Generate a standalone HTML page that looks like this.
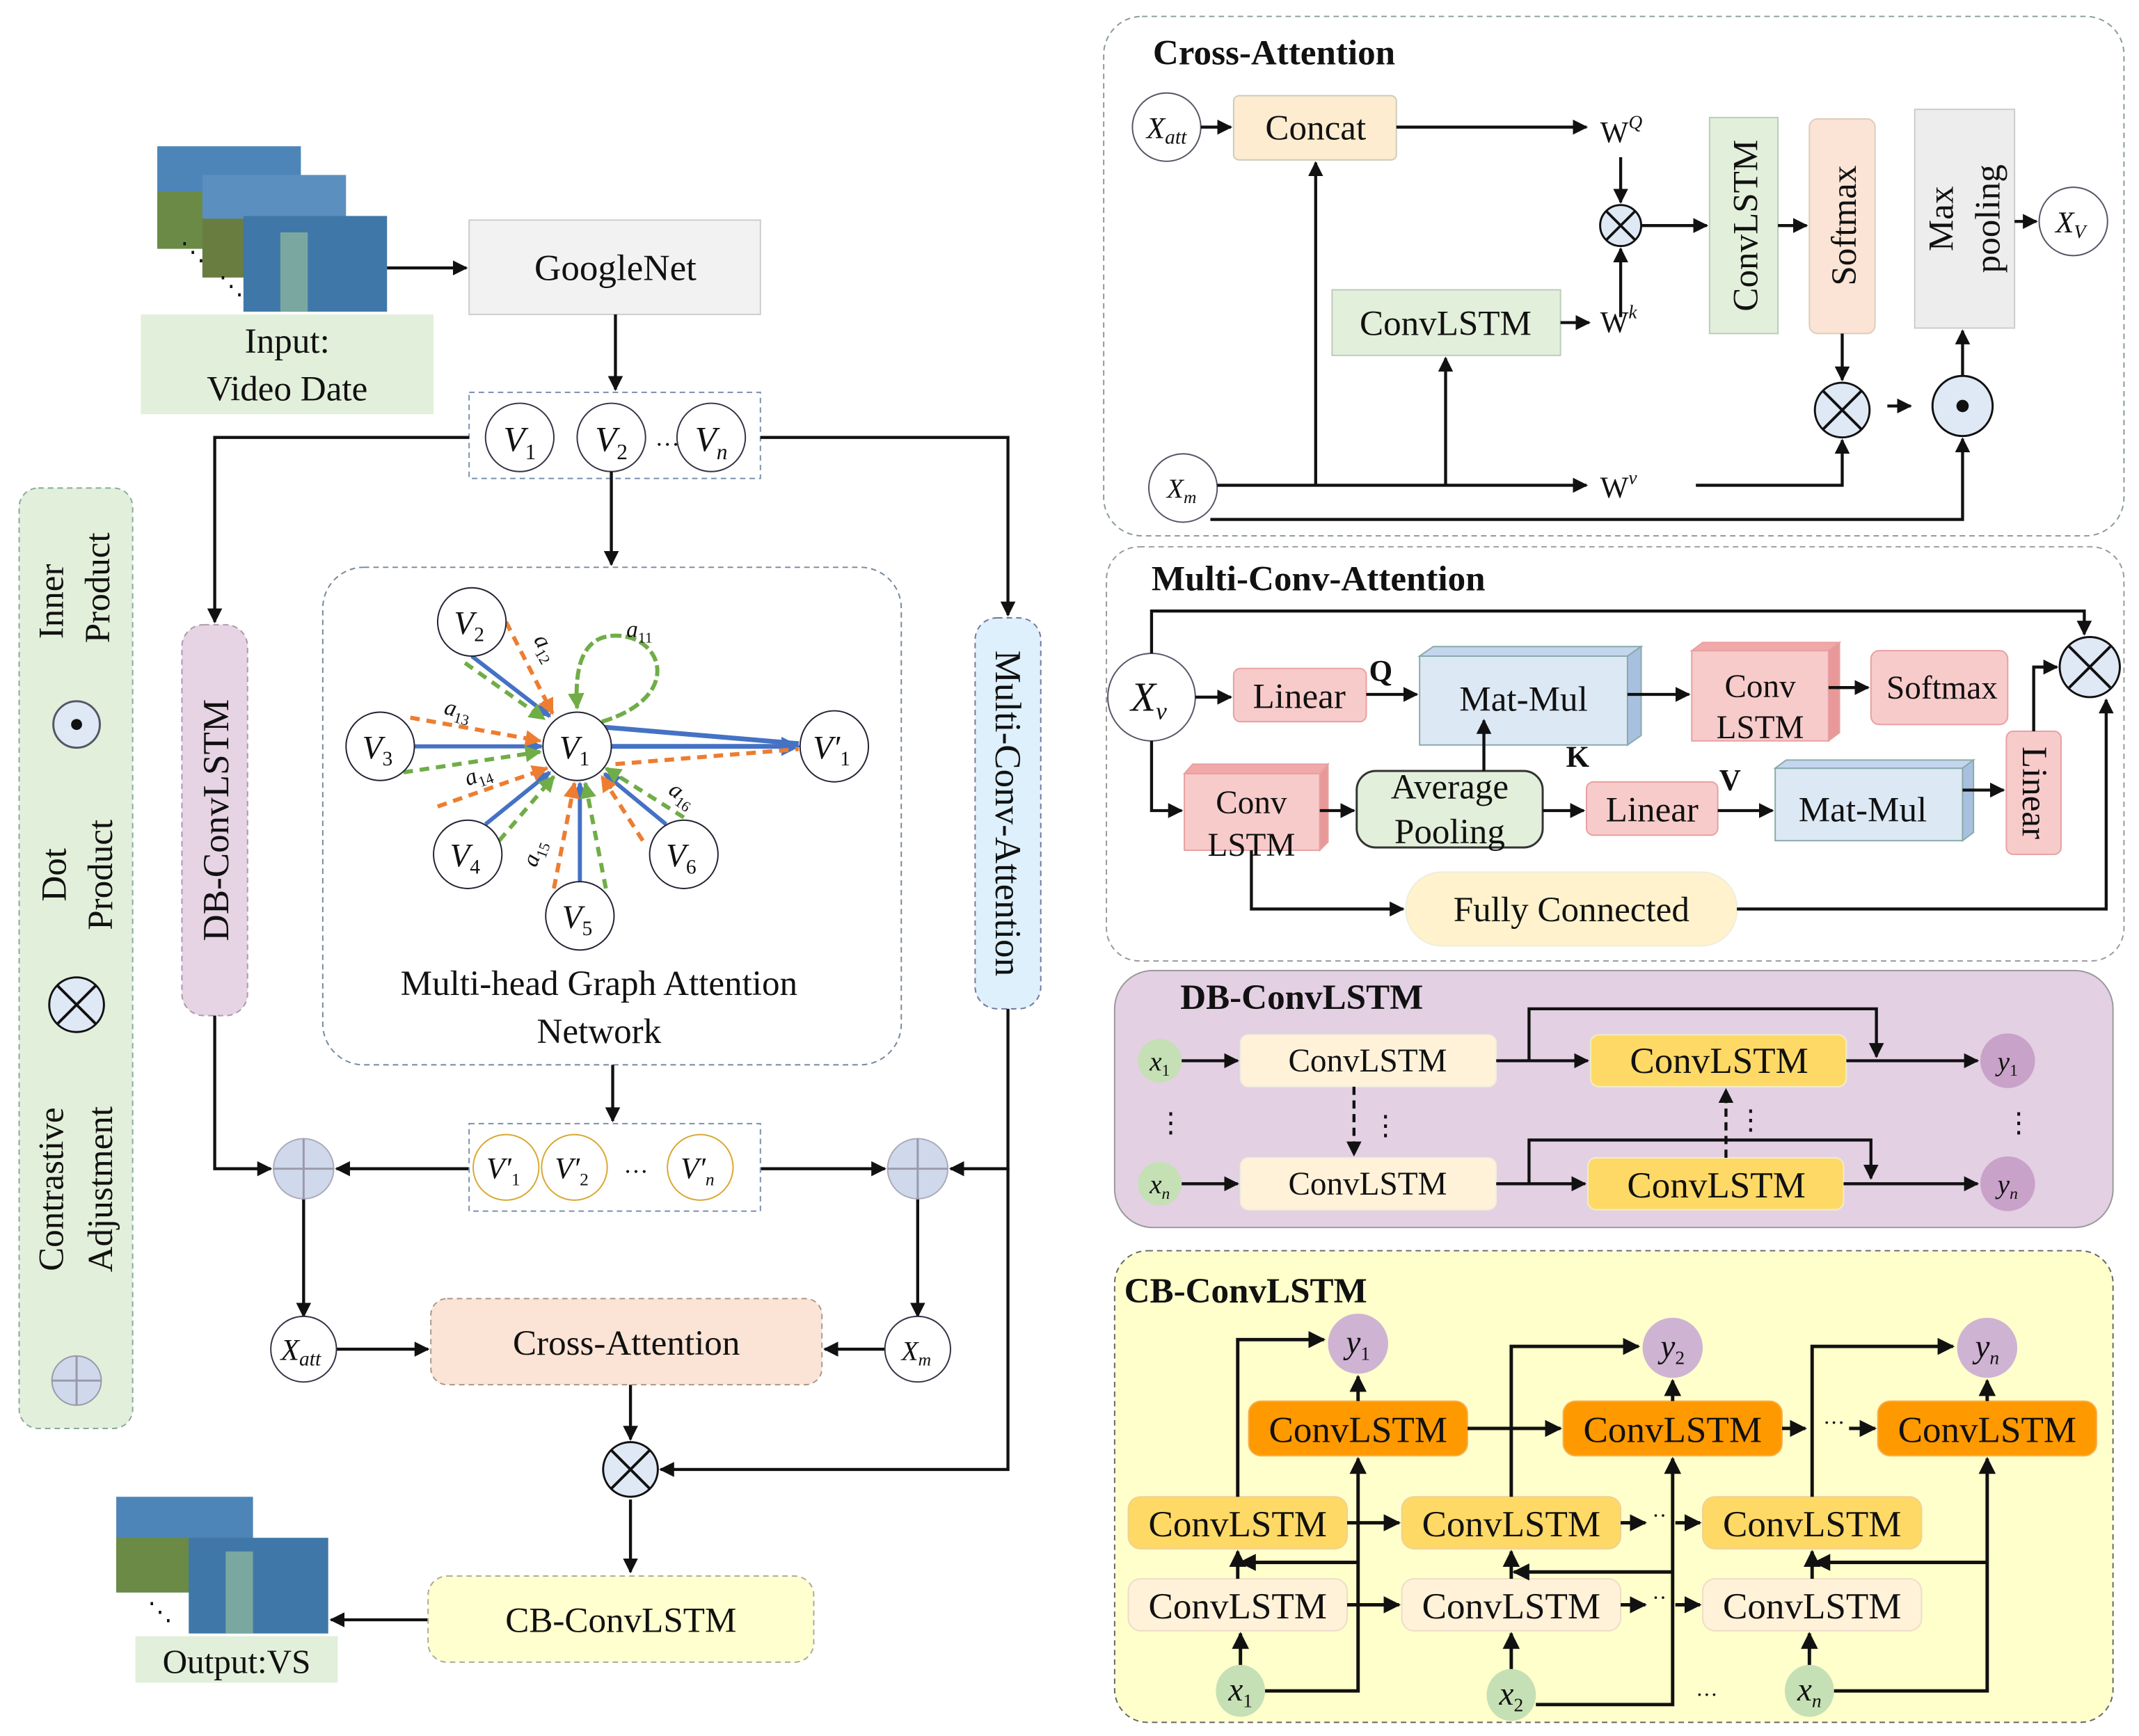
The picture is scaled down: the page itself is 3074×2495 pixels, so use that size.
<!DOCTYPE html>
<html><head><meta charset="utf-8"><style>
html,body{margin:0;padding:0;background:#fff}
svg{display:block}
text{font-family:"Liberation Serif",serif;fill:#111}
.i{font-style:italic}
</style></head><body>
<svg width="3074" height="2495" viewBox="0 0 1564 1270" preserveAspectRatio="none" xmlns="http://www.w3.org/2000/svg">
<defs>
<marker id="a" viewBox="0 0 10 10" refX="9" refY="5" markerWidth="5" markerHeight="5" orient="auto"><path d="M0,0L10,5L0,10z" fill="#111"/></marker>
<marker id="b" viewBox="0 0 10 10" refX="9" refY="5" markerWidth="4" markerHeight="4" orient="auto"><path d="M0,0L10,5L0,10z" fill="#4472c4"/></marker>
<marker id="g" viewBox="0 0 10 10" refX="9" refY="5" markerWidth="4" markerHeight="4" orient="auto"><path d="M0,0L10,5L0,10z" fill="#70ad47"/></marker>
<marker id="o" viewBox="0 0 10 10" refX="9" refY="5" markerWidth="4" markerHeight="4" orient="auto"><path d="M0,0L10,5L0,10z" fill="#ed7d31"/></marker>
<g id="ot"><circle r="20" fill="#dfe8f5" stroke="#111" stroke-width="1.5"/><path d="M-14,-14L14,14M14,-14L-14,14" stroke="#111" stroke-width="2"/></g>
<g id="op"><circle r="22" fill="#d0d8ec" stroke="#aab" stroke-width="1"/><path d="M-22,0H22M0,-22V22" stroke="#99a" stroke-width="1.5"/></g>
</defs>
<!-- legend -->
<rect x="14" y="357" width="83" height="688" rx="14" fill="#e2efda" stroke="#8a9" stroke-dasharray="4,3"/>
<text transform="translate(46,440) rotate(-90)" font-size="26" text-anchor="middle">Inner</text>
<text transform="translate(80,430) rotate(-90)" font-size="26" text-anchor="middle">Product</text>
<circle cx="56" cy="530" r="17" fill="#dfe8f5" stroke="#556" stroke-width="1.5"/><circle cx="56" cy="530" r="4" fill="#111"/>
<text transform="translate(48,640) rotate(-90)" font-size="26" text-anchor="middle">Dot</text>
<text transform="translate(82,640) rotate(-90)" font-size="26" text-anchor="middle">Product</text>
<use href="#ot" x="56" y="735"/>
<text transform="translate(46,870) rotate(-90)" font-size="26" text-anchor="middle">Contrastive</text>
<text transform="translate(82,870) rotate(-90)" font-size="26" text-anchor="middle">Adjustment</text>
<circle cx="56" cy="1010" r="18" fill="#d0d8ec" stroke="#99a"/><path d="M38,1010H74M56,992V1028" stroke="#99a" stroke-width="1.5"/>
<!-- input images -->
<rect x="115" y="107" width="105" height="75" fill="#4d85b8"/><rect x="115" y="140" width="105" height="42" fill="#6a8a45"/>
<rect x="148" y="128" width="105" height="75" fill="#5b8fbf"/><rect x="148" y="160" width="105" height="43" fill="#6a7d40"/>
<rect x="178" y="158" width="105" height="70" fill="#3f78a8"/><rect x="205" y="170" width="20" height="58" fill="#7aa7a0"/>
<text x="132" y="190" font-size="18">⋱</text><text x="160" y="215" font-size="18">⋱</text>
<rect x="103" y="230" width="214" height="73" fill="#e2efda"/>
<text x="210" y="258" font-size="26" text-anchor="middle">Input:</text>
<text x="210" y="293" font-size="26" text-anchor="middle">Video Date</text>
<rect x="343" y="161" width="213" height="69" fill="#f2f2f2" stroke="#ccc"/>
<text x="450" y="205" font-size="27" text-anchor="middle">GoogleNet</text>
<rect x="343" y="287" width="213" height="63" fill="#fff" stroke="#7890b0" stroke-dasharray="4,3"/>
<g fill="#fff" stroke="#334" stroke-width="1"><circle cx="380" cy="320" r="25"/><circle cx="447" cy="320" r="25"/><circle cx="520" cy="320" r="25"/></g>
<text x="380" y="330" font-size="26" class="i" text-anchor="middle">V<tspan font-size="16" font-style="normal" dy="6">1</tspan></text>
<text x="447" y="330" font-size="26" class="i" text-anchor="middle">V<tspan font-size="16" font-style="normal" dy="6">2</tspan></text>
<text x="520" y="330" font-size="26" class="i" text-anchor="middle">V<tspan font-size="16" dy="6">n</tspan></text>
<text x="488" y="326" font-size="18" text-anchor="middle">…</text>
<rect x="236" y="415" width="423" height="364" rx="30" fill="#fff" stroke="#789" stroke-dasharray="4,3"/>
<rect x="133" y="457" width="48" height="286" rx="16" fill="#e6d3e4" stroke="#a9a" stroke-dasharray="4,3"/>
<text transform="translate(167,600) rotate(-90)" font-size="27" text-anchor="middle">DB-ConvLSTM</text>
<rect x="713" y="452" width="48" height="286" rx="16" fill="#ddf0fc" stroke="#779" stroke-dasharray="4,3"/>
<text transform="translate(728,595) rotate(90)" font-size="27" text-anchor="middle">Multi-Conv-Attention</text>
<g stroke="#111" stroke-width="2.2" fill="none" marker-end="url(#a)">
<path d="M283,196H341"/><path d="M450,230V285"/>
<path d="M343,320H157V455"/><path d="M556,320H737V450"/><path d="M447,345V413"/>
<path d="M448,779V820"/>
<path d="M157,743V855H198"/><path d="M343,855H246"/><path d="M556,855H647"/><path d="M737,738V855H695"/>
<path d="M737,855V1075H483"/>
<path d="M222,877V963"/><path d="M671,877V963"/>
<path d="M246,987H313"/><path d="M647,987H603"/>
<path d="M461,1013V1053"/><path d="M461,1097V1150"/><path d="M313,1185H242"/>
</g>
<!-- GAT -->
<g stroke-width="3" fill="none">
<path d="M345,480L402,524" stroke="#4472c4" marker-end="url(#b)"/>
<path d="M370,455L404,522" stroke="#ed7d31" stroke-dasharray="7,5" marker-end="url(#o)"/>
<path d="M340,485L398,526" stroke="#70ad47" stroke-dasharray="7,5" marker-end="url(#g)"/>
<path d="M303,546H396" stroke="#4472c4" marker-end="url(#b)"/>
<path d="M300,525L395,542" stroke="#ed7d31" stroke-dasharray="7,5" marker-end="url(#o)"/>
<path d="M295,565L395,550" stroke="#70ad47" stroke-dasharray="7,5" marker-end="url(#g)"/>
<path d="M355,603L402,565" stroke="#4472c4" marker-end="url(#b)"/>
<path d="M320,590L400,562" stroke="#ed7d31" stroke-dasharray="7,5" marker-end="url(#o)"/>
<path d="M365,615L405,568" stroke="#70ad47" stroke-dasharray="7,5" marker-end="url(#g)"/>
<path d="M424,645V573" stroke="#4472c4" marker-end="url(#b)"/>
<path d="M405,650L420,573" stroke="#ed7d31" stroke-dasharray="7,5" marker-end="url(#o)"/>
<path d="M443,650L428,573" stroke="#70ad47" stroke-dasharray="7,5" marker-end="url(#g)"/>
<path d="M487,603L442,566" stroke="#4472c4" marker-end="url(#b)"/>
<path d="M470,615L440,568" stroke="#ed7d31" stroke-dasharray="7,5" marker-end="url(#o)"/>
<path d="M500,598L443,562" stroke="#70ad47" stroke-dasharray="7,5" marker-end="url(#g)"/>
<path d="M447,546H584" stroke="#4472c4" stroke-width="3.5" marker-end="url(#b)"/>
<path d="M442,532L584,544" stroke="#4472c4" stroke-width="3.5"/>
<path d="M450,559L584,548" stroke="#ed7d31" stroke-dasharray="7,5"/>
<path d="M440,528C500,510 485,465 450,465C425,465 420,490 422,518" stroke="#70ad47" stroke-dasharray="8,3" marker-end="url(#g)"/>
</g>
<g fill="#fff" stroke="#223" stroke-width="1">
<circle cx="422" cy="546" r="25"/><circle cx="345" cy="455" r="25"/><circle cx="278" cy="546" r="25"/><circle cx="342" cy="625" r="25"/><circle cx="424" cy="670" r="25"/><circle cx="500" cy="625" r="25"/><ellipse cx="610" cy="546" rx="25" ry="26"/>
</g>
<g font-size="24" class="i" text-anchor="middle">
<text x="420" y="555">V<tspan font-size="15" font-style="normal" dy="5">1</tspan></text>
<text x="343" y="464">V<tspan font-size="15" font-style="normal" dy="5">2</tspan></text>
<text x="276" y="555">V<tspan font-size="15" font-style="normal" dy="5">3</tspan></text>
<text x="340" y="634">V<tspan font-size="15" font-style="normal" dy="5">4</tspan></text>
<text x="422" y="679">V<tspan font-size="15" font-style="normal" dy="5">5</tspan></text>
<text x="498" y="634">V<tspan font-size="15" font-style="normal" dy="5">6</tspan></text>
<text x="608" y="555">V′<tspan font-size="15" font-style="normal" dy="5">1</tspan></text>
</g>
<g font-size="17" class="i">
<text x="458" y="466">a<tspan font-size="11" font-style="normal" dy="4">11</tspan></text>
<text transform="translate(390,468) rotate(60)">a<tspan font-size="11" font-style="normal" dy="4">12</tspan></text>
<text transform="translate(324,522) rotate(15)">a<tspan font-size="11" font-style="normal" dy="4">13</tspan></text>
<text transform="translate(342,575) rotate(-20)">a<tspan font-size="11" font-style="normal" dy="4">14</tspan></text>
<text transform="translate(392,635) rotate(-70)">a<tspan font-size="11" font-style="normal" dy="4">15</tspan></text>
<text transform="translate(488,580) rotate(35)">a<tspan font-size="11" font-style="normal" dy="4">16</tspan></text>
</g>
<text x="438" y="728" font-size="26" text-anchor="middle">Multi-head Graph Attention</text>
<text x="438" y="763" font-size="26" text-anchor="middle">Network</text>
<rect x="343" y="822" width="213" height="64" fill="#fff" stroke="#7890b0" stroke-dasharray="4,3"/>
<g fill="#fff" stroke="#d8a830" stroke-width="1"><circle cx="370" cy="854" r="24"/><circle cx="420" cy="854" r="24"/><circle cx="512" cy="854" r="24"/></g>
<g font-size="22" class="i" text-anchor="middle">
<text x="368" y="862">V′<tspan font-size="13" font-style="normal" dy="5">1</tspan></text>
<text x="418" y="862">V′<tspan font-size="13" font-style="normal" dy="5">2</tspan></text>
<text x="510" y="862">V′<tspan font-size="13" dy="5">n</tspan></text>
</g>
<text x="465" y="858" font-size="18" text-anchor="middle">…</text>
<use href="#op" x="222" y="855"/><use href="#op" x="671" y="855"/>
<circle cx="222" cy="987" r="24" fill="#fff" stroke="#334"/><text x="220" y="995" font-size="22" class="i" text-anchor="middle">X<tspan font-size="15" dy="4">att</tspan></text>
<circle cx="671" cy="987" r="24" fill="#fff" stroke="#334"/><text x="670" y="995" font-size="20" class="i" text-anchor="middle">X<tspan font-size="13" dy="4">m</tspan></text>
<rect x="315" y="950" width="286" height="63" rx="12" fill="#fbe4d5" stroke="#a98" stroke-dasharray="4,3"/>
<text x="458" y="991" font-size="26" text-anchor="middle">Cross-Attention</text>
<use href="#ot" x="461" y="1075"/>
<rect x="313" y="1153" width="282" height="63" rx="14" fill="#ffffd0" stroke="#aa9" stroke-dasharray="4,3"/>
<text x="454" y="1194" font-size="26" text-anchor="middle">CB-ConvLSTM</text>
<rect x="85" y="1095" width="100" height="70" fill="#4d85b8"/><rect x="85" y="1125" width="100" height="40" fill="#6a8a45"/>
<rect x="138" y="1125" width="102" height="70" fill="#3f78a8"/><rect x="165" y="1135" width="20" height="60" fill="#7aa7a0"/>
<text x="108" y="1185" font-size="18">⋱</text>
<rect x="99" y="1197" width="148" height="34" fill="#e2efda"/>
<text x="173" y="1224" font-size="25" text-anchor="middle">Output:VS</text>

<!-- CROSS ATTENTION PANEL -->
<rect x="807" y="12" width="746" height="380" rx="28" fill="#fff" stroke="#8a9a9a" stroke-dasharray="4,3"/>
<text x="843" y="47" font-size="26" font-weight="bold">Cross-Attention</text>
<circle cx="853" cy="93" r="25" fill="#fff" stroke="#556"/><text x="853" y="101" font-size="22" class="i" text-anchor="middle">X<tspan font-size="15" dy="4">att</tspan></text>
<rect x="902" y="70" width="119" height="47" rx="4" fill="#fdeccf" stroke="#ccb"/><text x="962" y="102" font-size="26" text-anchor="middle">Concat</text>
<rect x="974" y="212" width="167" height="48" fill="#e2efda" stroke="#bcb"/><text x="1057" y="245" font-size="26" text-anchor="middle">ConvLSTM</text>
<rect x="1250" y="86" width="50" height="158" fill="#e2efda" stroke="#bcb"/><text transform="translate(1285,165) rotate(-90)" font-size="26" text-anchor="middle">ConvLSTM</text>
<rect x="1323" y="87" width="48" height="157" rx="6" fill="#fbe4d5" stroke="#dcb"/><text transform="translate(1357,165) rotate(-90)" font-size="26" text-anchor="middle">Softmax</text>
<rect x="1400" y="80" width="73" height="160" fill="#ededed" stroke="#ccc"/>
<text transform="translate(1428,160) rotate(-90)" font-size="26" text-anchor="middle">Max</text>
<text transform="translate(1462,160) rotate(-90)" font-size="26" text-anchor="middle">pooling</text>
<circle cx="1516" cy="162" r="25" fill="#fff" stroke="#556"/><text x="1514" y="170" font-size="22" class="i" text-anchor="middle">X<tspan font-size="14" dy="4">V</tspan></text>
<circle cx="865" cy="357" r="25" fill="#fff" stroke="#556"/><text x="864" y="364" font-size="20" class="i" text-anchor="middle">X<tspan font-size="13" dy="4">m</tspan></text>
<g font-size="22"><text x="1170" y="104">W<tspan font-size="14" class="i" dy="-10">Q</tspan></text><text x="1170" y="243">W<tspan font-size="14" class="i" dy="-10">k</tspan></text><text x="1170" y="364">W<tspan font-size="14" class="i" dy="-10">v</tspan></text></g>
<g transform="translate(1185,165) scale(0.75)"><circle r="20" fill="#dfe8f5" stroke="#111" stroke-width="2"/><path d="M-14,-14L14,14M14,-14L-14,14" stroke="#111" stroke-width="2.5"/></g>
<use href="#ot" x="1347" y="300"/>
<circle cx="1435" cy="297" r="22" fill="#dfe8f5" stroke="#111" stroke-width="1.5"/><circle cx="1435" cy="297" r="4.5" fill="#111"/>
<g stroke="#111" stroke-width="2.2" fill="none" marker-end="url(#a)">
<path d="M878,93H900"/><path d="M1021,93H1160"/><path d="M1185,115V148"/><path d="M1185,232V182"/><path d="M1141,236H1162"/>
<path d="M1200,165H1248"/><path d="M1300,165H1321"/><path d="M1473,162H1489"/>
<path d="M890,355H1160"/><path d="M962,355V119"/><path d="M1057,355V262"/>
<path d="M1347,244V278"/><path d="M1380,297H1397"/><path d="M1435,275V242"/>
<path d="M1240,355H1347V322"/><path d="M885,380H1435V321"/>
</g>
<!-- MULTI-CONV-ATTENTION -->
<rect x="809" y="400" width="744" height="303" rx="24" fill="#fff" stroke="#999" stroke-dasharray="4,3"/>
<text x="842" y="432" font-size="26" font-weight="bold">Multi-Conv-Attention</text>
<circle cx="842" cy="510" r="32" fill="#fff" stroke="#556"/><text x="840" y="520" font-size="30" class="i" text-anchor="middle">X<tspan font-size="18" dy="6">v</tspan></text>
<g stroke="#e8a0a0" stroke-width="1">
<rect x="902" y="489" width="97" height="39" rx="5" fill="#f8cbcb"/>
<rect x="1237" y="476" width="100" height="66" fill="#f8cbcb"/>
<path d="M1237,476L1245,470H1345L1337,476Z" fill="#f0a8a8"/><path d="M1337,476L1345,470V536L1337,542Z" fill="#e89898"/>
<rect x="1368" y="476" width="100" height="54" rx="6" fill="#f8cbcb"/>
<rect x="866" y="566" width="99" height="56" fill="#f8cbcb"/>
<path d="M866,566L872,559H971L965,566Z" fill="#f0a8a8"/><path d="M965,566L971,559V616L965,622Z" fill="#e89898"/>
<rect x="1160" y="572" width="96" height="39" rx="5" fill="#f8cbcb"/>
<rect x="1467" y="535" width="40" height="90" rx="5" fill="#f8cbcb"/>
</g>
<g stroke="#8aa" stroke-width="1">
<rect x="1038" y="480" width="152" height="65" fill="#dde8f5"/>
<path d="M1038,480L1048,473H1200L1190,480Z" fill="#c4d6ee"/><path d="M1190,480L1200,473V538L1190,545Z" fill="#a8c0e0"/>
<rect x="1298" y="562" width="137" height="53" fill="#dde8f5"/>
<path d="M1298,562L1306,556H1443L1435,562Z" fill="#c4d6ee"/><path d="M1435,562L1443,556V609L1435,615Z" fill="#a8c0e0"/>
</g>
<rect x="992" y="564" width="136" height="56" rx="14" fill="#e2efda" stroke="#333" stroke-width="1.5"/>
<rect x="1028" y="638" width="242" height="54" rx="26" fill="#fff2cc" stroke="#eed"/>
<g font-size="26" text-anchor="middle">
<text x="950" y="518">Linear</text><text x="1114" y="520">Mat-Mul</text>
<text x="1287" y="510" font-size="24">Conv</text><text x="1287" y="540" font-size="24">LSTM</text>
<text x="1420" y="511" font-size="24">Softmax</text>
<text x="915" y="595" font-size="24">Conv</text><text x="915" y="626" font-size="24">LSTM</text>
<text x="1060" y="584">Average</text><text x="1060" y="617">Pooling</text>
<text x="1208" y="601">Linear</text><text x="1362" y="601">Mat-Mul</text>
<text x="1149" y="674">Fully Connected</text>
<text transform="translate(1479,580) rotate(90)">Linear</text>
</g>
<g font-size="22" font-weight="bold"><text x="1001" y="498">Q</text><text x="1145" y="561">K</text><text x="1257" y="578">V</text></g>
<circle cx="1528" cy="488" r="22" fill="#dfe8f5" stroke="#111" stroke-width="1.5"/><path d="M1513,473L1543,503M1543,473L1513,503" stroke="#111" stroke-width="2"/>
<g stroke="#111" stroke-width="2.2" fill="none" marker-end="url(#a)">
<path d="M874,510H900"/><path d="M999,508H1036"/><path d="M1190,508H1235"/><path d="M1337,503H1366"/>
<path d="M842,478V447H1524V464"/><path d="M842,542V593H864"/><path d="M965,593H990"/><path d="M1085,564V527"/>
<path d="M1128,593H1158"/><path d="M1256,593H1296"/><path d="M1435,578H1465"/>
<path d="M1487,535V488H1504"/><path d="M915,622V665H1026"/><path d="M1270,665H1540V512"/>
</g>
<!-- DB-ConvLSTM -->
<rect x="815" y="710" width="730" height="188" rx="28" fill="#e3d0e3" stroke="#999"/>
<text x="863" y="738" font-size="26" font-weight="bold">DB-ConvLSTM</text>
<g fill="#fff2d9" stroke="#eed"><rect x="907" y="757" width="187" height="38" rx="6"/><rect x="907" y="847" width="187" height="38" rx="6"/></g>
<g fill="#ffd966" stroke="#eec"><rect x="1163" y="757" width="187" height="38" rx="6"/><rect x="1161" y="847" width="187" height="38" rx="6"/></g>
<g font-size="24" text-anchor="middle"><text x="1000" y="784">ConvLSTM</text><text x="1000" y="874">ConvLSTM</text>
<text x="1257" y="785" font-size="27">ConvLSTM</text><text x="1255" y="876" font-size="27">ConvLSTM</text></g>
<g fill="#c5e0b4"><circle cx="848" cy="776" r="16"/><circle cx="848" cy="866" r="16"/></g>
<g fill="#c8a2c8"><circle cx="1468" cy="776" r="20"/><circle cx="1468" cy="866" r="20"/></g>
<g font-size="20" class="i" text-anchor="middle"><text x="848" y="783">x<tspan font-size="12" font-style="normal" dy="4">1</tspan></text><text x="848" y="873">x<tspan font-size="12" dy="4">n</tspan></text>
<text x="1468" y="783">y<tspan font-size="12" font-style="normal" dy="4">1</tspan></text><text x="1468" y="873">y<tspan font-size="12" dy="4">n</tspan></text></g>
<g font-size="20"><text x="846" y="828">⋮</text><text x="1466" y="828">⋮</text><text x="1003" y="830">⋮</text><text x="1270" y="826">⋮</text></g>
<g stroke="#111" stroke-width="2.2" fill="none" marker-end="url(#a)">
<path d="M864,776H905"/><path d="M1094,776H1161"/><path d="M1350,776H1446"/><path d="M1118,776V738H1372V773"/>
<path d="M864,866H905"/><path d="M1094,866H1159"/><path d="M1348,866H1446"/><path d="M1118,866V834H1368V862"/>
<path d="M990,795V845" stroke-dasharray="6,4"/><path d="M1262,847V797" stroke-dasharray="6,4"/>
</g>
<!-- CB-ConvLSTM -->
<rect x="815" y="915" width="730" height="345" rx="24" fill="#ffffcc" stroke="#666" stroke-dasharray="4,3"/>
<text x="822" y="953" font-size="26" font-weight="bold">CB-ConvLSTM</text>
<g fill="#ff9900" stroke="#f5b050"><rect x="913" y="1025" width="160" height="40" rx="9"/><rect x="1143" y="1025" width="160" height="40" rx="9"/><rect x="1373" y="1025" width="160" height="40" rx="9"/></g>
<g fill="#ffd966" stroke="#f0d090"><rect x="825" y="1095" width="160" height="38" rx="9"/><rect x="1025" y="1095" width="160" height="38" rx="9"/><rect x="1245" y="1095" width="160" height="38" rx="9"/></g>
<g fill="#fff2d9" stroke="#eedcc8"><rect x="825" y="1155" width="160" height="38" rx="9"/><rect x="1025" y="1155" width="160" height="38" rx="9"/><rect x="1245" y="1155" width="160" height="38" rx="9"/></g>
<g font-size="27" text-anchor="middle">
<text x="993" y="1055">ConvLSTM</text><text x="1223" y="1055">ConvLSTM</text><text x="1453" y="1055">ConvLSTM</text>
<text x="905" y="1124">ConvLSTM</text><text x="1105" y="1124">ConvLSTM</text><text x="1325" y="1124">ConvLSTM</text>
<text x="905" y="1184">ConvLSTM</text><text x="1105" y="1184">ConvLSTM</text><text x="1325" y="1184">ConvLSTM</text>
</g>
<g fill="#cfb3d3"><ellipse cx="993" cy="983" rx="22" ry="22"/><ellipse cx="1223" cy="986" rx="22" ry="22"/><ellipse cx="1453" cy="986" rx="22" ry="22"/></g>
<g fill="#c5e0b4"><ellipse cx="907" cy="1237" rx="18" ry="19"/><ellipse cx="1105" cy="1240" rx="18" ry="19"/><ellipse cx="1323" cy="1237" rx="18" ry="19"/></g>
<g font-size="24" class="i" text-anchor="middle">
<text x="993" y="990">y<tspan font-size="14" font-style="normal" dy="5">1</tspan></text><text x="1223" y="993">y<tspan font-size="14" font-style="normal" dy="5">2</tspan></text><text x="1453" y="993">y<tspan font-size="14" dy="5">n</tspan></text>
<text x="907" y="1244">x<tspan font-size="14" font-style="normal" dy="5">1</tspan></text><text x="1105" y="1247">x<tspan font-size="14" font-style="normal" dy="5">2</tspan></text><text x="1323" y="1244">x<tspan font-size="14" dy="5">n</tspan></text>
</g>
<g font-size="16"><text x="1333" y="1046">···</text><text x="1208" y="1114">··</text><text x="1208" y="1174">··</text><text x="1240" y="1245">···</text></g>
<g stroke="#111" stroke-width="2.5" fill="none" marker-end="url(#a)">
<path d="M907,1218V1195"/><path d="M1105,1221V1195"/><path d="M1323,1218V1195"/>
<path d="M905,1155V1135"/><path d="M1105,1155V1135"/><path d="M1325,1155V1135"/>
<path d="M905,1095V980H968"/><path d="M1105,1095V985H1198"/><path d="M1325,1095V985H1428"/>
<path d="M993,1025V1007"/><path d="M1223,1025V1010"/><path d="M1453,1025V1010"/>
<path d="M925,1237H993V1067"/><path d="M1123,1247H1223V1067"/><path d="M1341,1237H1453V1067"/>
<path d="M993,1143H907"/><path d="M1223,1150H1107"/><path d="M1453,1143H1327"/>
<path d="M985,1114H1023"/><path d="M1185,1114H1203"/><path d="M1225,1114H1243"/>
<path d="M985,1174H1023"/><path d="M1185,1174H1203"/><path d="M1225,1174H1243"/>
<path d="M1073,1045H1141"/><path d="M1303,1045H1320"/><path d="M1352,1045H1371"/>
</g>
</svg>
</body></html>
